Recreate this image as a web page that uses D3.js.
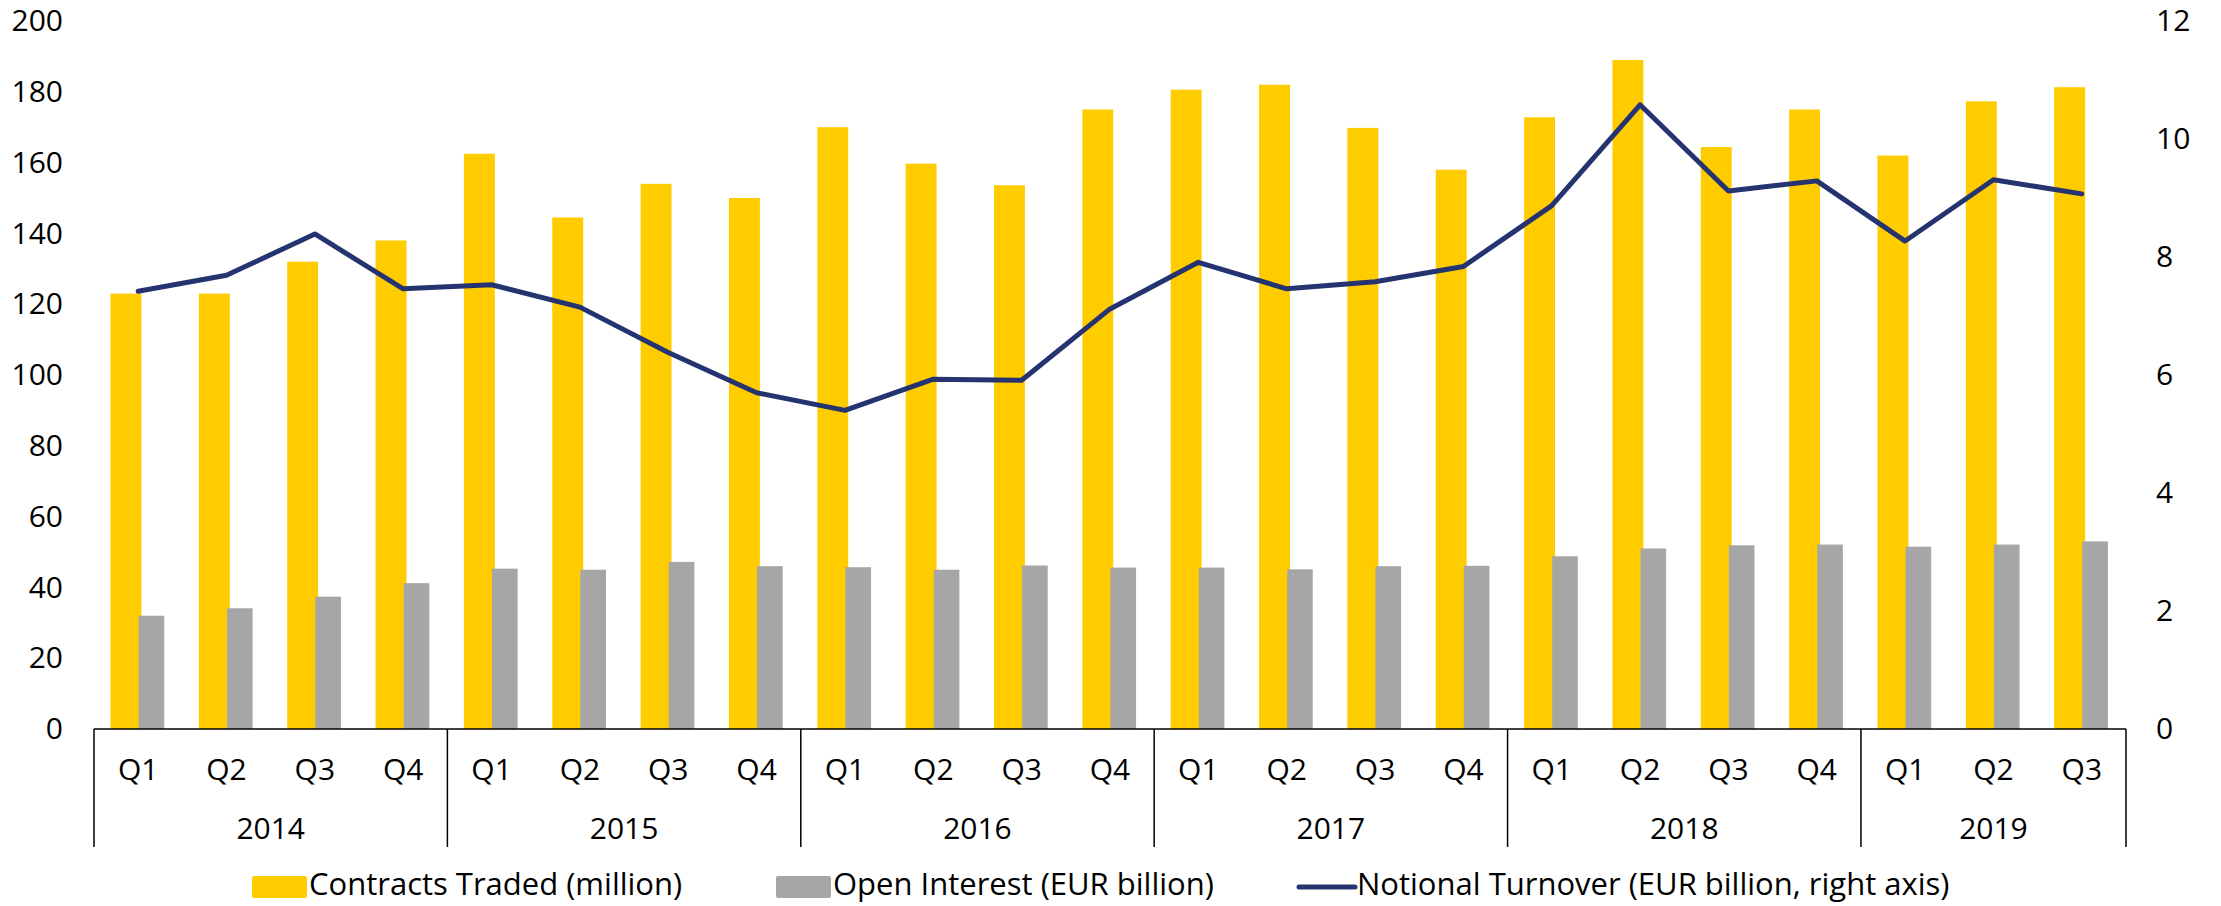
<!DOCTYPE html>
<html>
<head>
<meta charset="utf-8">
<script src="https://cdn.jsdelivr.net/npm/d3@7"></script>
<style>
   body { margin: 0; background: #fff; }
   text { font-family: "Open Sans", sans-serif; fill: #000; }
</style>
</head>
<body>
<div id="chart"></div>
<script>
// quarters on the x axis, grouped by year
const years = ['2014', '2015', '2016', '2017', '2018', '2019'];
const quartersPerYear = [4, 4, 4, 4, 4, 3];
const quarters = [
   'Q1', 'Q2', 'Q3', 'Q4', 'Q1', 'Q2', 'Q3', 'Q4', 'Q1', 'Q2', 'Q3', 'Q4',
   'Q1', 'Q2', 'Q3', 'Q4', 'Q1', 'Q2', 'Q3', 'Q4', 'Q1', 'Q2', 'Q3'
];

// series values
const contractsTraded = [
   123, 123, 132, 138, 162.5, 144.5, 154, 150, 170, 159.7, 153.6, 175,
   180.6, 182, 169.8, 158, 172.8, 189, 164.4, 175, 162, 177.3, 181.3
];
const openInterest = [
   32, 34.1, 37.4, 41.2, 45.3, 45, 47.2, 46, 45.7, 45, 46.2, 45.6,
   45.6, 45.1, 46, 46.1, 48.8, 51, 51.9, 52.1, 51.5, 52.1, 53
];
const notionalTurnover = [
   7.42, 7.69, 8.39, 7.46, 7.53, 7.15, 6.38, 5.7, 5.4, 5.93, 5.91, 7.12,
   7.91, 7.46, 7.58, 7.84, 8.87, 10.58, 9.12, 9.29, 8.27, 9.31, 9.07
];

// axis ticks
const leftTicks = [0, 20, 40, 60, 80, 100, 120, 140, 160, 180, 200];
const rightTicks = [0, 2, 4, 6, 8, 10, 12];

const legendItems = [
   { label: 'Contracts Traded (million)', color: '#FFCC00', type: 'rect' },
   { label: 'Open Interest (EUR billion)', color: '#A6A6A6', type: 'rect' },
   { label: 'Notional Turnover (EUR billion, right axis)', color: '#253470', type: 'line' }
];

function draw() {
   var width = 2221;
   var height = 906;
   var plotLeft = 94, plotRight = 2126, plotTop = 21, plotBottom = 729;
   var fontSize = '30px';
   var legendFont = '31px';

   var svg = d3.select('#chart')
      .append('svg')
      .attr('width', width)
      .attr('height', height);

   var idx = d3.range(quarters.length);

   var x = d3.scaleBand()
      .domain(idx)
      .range([plotLeft, plotRight])
      .padding(0);

   var y = d3.scaleLinear().domain([0, 200]).range([plotBottom, plotTop]);
   var y2 = d3.scaleLinear().domain([0, 12]).range([plotBottom, plotTop]);

   var bw = x.bandwidth();
   var center = function(i) { return x(i) + bw / 2; };

   // yellow bars
   svg.append('g')
      .selectAll('rect')
      .data(contractsTraded)
      .enter()
      .append('rect')
      .attr('x', function(d, i) { return center(i) - bw * 0.313; })
      .attr('width', bw * 0.35)
      .attr('y', function(d) { return y(d); })
      .attr('height', function(d) { return y(0) - y(d); })
      .attr('fill', '#FFCC00');

   // grey bars, drawn over the yellow ones
   svg.append('g')
      .selectAll('rect')
      .data(openInterest)
      .enter()
      .append('rect')
      .attr('x', function(d, i) { return center(i) + bw * 0.005; })
      .attr('width', bw * 0.29)
      .attr('y', function(d) { return y(d); })
      .attr('height', function(d) { return y(0) - y(d); })
      .attr('fill', '#A6A6A6');

   // line on right axis
   var line = d3.line()
      .x(function(d, i) { return center(i); })
      .y(function(d) { return y2(d); });

   svg.append('path')
      .datum(notionalTurnover)
      .attr('d', line)
      .attr('fill', 'none')
      .attr('stroke', '#253470')
      .attr('stroke-width', 5)
      .attr('stroke-linejoin', 'round')
      .attr('stroke-linecap', 'round');

   // left axis
   var gl = svg.append('g')
      .attr('transform', 'translate(' + plotLeft + ',0)')
      .call(d3.axisLeft(y).tickValues(leftTicks).tickSize(0).tickPadding(31));
   gl.select('.domain').remove();
   gl.selectAll('text').style('font-size', fontSize).style('font-family', '"Open Sans", sans-serif');

   // right axis
   var gr = svg.append('g')
      .attr('transform', 'translate(' + plotRight + ',0)')
      .call(d3.axisRight(y2).tickValues(rightTicks).tickSize(0).tickPadding(30));
   gr.select('.domain').remove();
   gr.selectAll('text').style('font-size', fontSize).style('font-family', '"Open Sans", sans-serif');

   // x axis: baseline, quarter labels, year groups
   svg.append('line')
      .attr('x1', plotLeft).attr('x2', plotRight)
      .attr('y1', plotBottom).attr('y2', plotBottom)
      .attr('stroke', '#000').attr('stroke-width', 1.5);

   var gq = svg.append('g')
      .attr('transform', 'translate(0,' + plotBottom + ')')
      .call(d3.axisBottom(x)
         .tickFormat(function(i) { return quarters[i]; })
         .tickSize(0)
         .tickPadding(30));
   gq.select('.domain').remove();
   gq.selectAll('text').style('font-size', fontSize).style('font-family', '"Open Sans", sans-serif');

   var starts = [0];
   quartersPerYear.forEach(function(n, i) { starts.push(starts[i] + n); });
   var edge = function(k) { return k < quarters.length ? x(k) : plotRight; };

   svg.append('g')
      .selectAll('line')
      .data(starts)
      .enter()
      .append('line')
      .attr('x1', edge)
      .attr('x2', edge)
      .attr('y1', plotBottom)
      .attr('y2', 847)
      .attr('stroke', '#000')
      .attr('stroke-width', 1.5);

   svg.append('g')
      .selectAll('text')
      .data(years)
      .enter()
      .append('text')
      .attr('x', function(d, i) { return (edge(starts[i]) + edge(starts[i + 1])) / 2; })
      .attr('y', 839)
      .attr('text-anchor', 'middle')
      .style('font-size', fontSize)
      .text(function(d) { return d; });

   // legend
   var legendX = [252, 776, 1297];
   var legend = svg.selectAll('.legend')
      .data(legendItems)
      .enter()
      .append('g')
      .attr('class', 'legend')
      .attr('transform', function(d, i) { return 'translate(' + legendX[i] + ',876)'; });

   legend.filter(function(d) { return d.type === 'rect'; })
      .append('rect')
      .attr('width', 55)
      .attr('height', 22)
      .attr('rx', 2)
      .attr('fill', function(d) { return d.color; });

   legend.filter(function(d) { return d.type === 'line'; })
      .append('line')
      .attr('x1', 2).attr('x2', 58)
      .attr('y1', 11).attr('y2', 11)
      .attr('stroke', function(d) { return d.color; })
      .attr('stroke-width', 5)
      .attr('stroke-linecap', 'round');

   legend.append('text')
      .attr('x', function(d) { return d.type === 'line' ? 60 : 57; })
      .attr('y', 19)
      .style('font-size', legendFont)
      .text(function(d) { return d.label; });
}

draw();
</script>
</body>
</html>
